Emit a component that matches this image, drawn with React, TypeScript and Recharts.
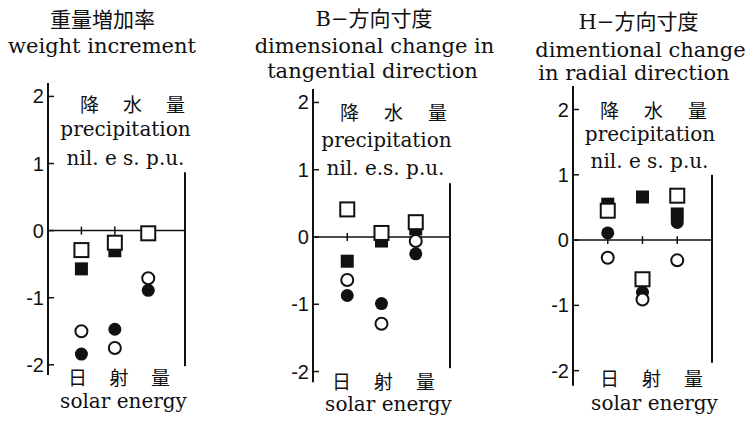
import React from "react"
import { ScatterChart, Scatter, XAxis, YAxis, ReferenceLine } from "recharts"

// category order along each panel: nil., e.s., p.u.
const categories = ["nil.", "e.s.", "p.u."]
const yTicks = [2, 1, 0, -1, -2]

// 重量増加率 weight increment
const weightOpenSquare = [-0.29, -0.18, -0.04]
const weightFilledSquare = [-0.57, -0.3, null]
const weightOpenCircle = [-1.5, -1.75, -0.71]
const weightFilledCircle = [-1.84, -1.47, -0.89]

// B-方向寸度 tangential direction
const tangOpenSquare = [0.41, 0.06, 0.22]
const tangFilledSquare = [-0.36, -0.06, 0.12]
const tangOpenCircle = [-0.64, -1.29, -0.06]
const tangFilledCircle = [-0.87, -0.99, -0.25]

// H-方向寸度 radial direction
const radOpenSquare = [0.45, -0.6, 0.68]
const radFilledSquare = [0.55, 0.66, 0.4]
const radOpenCircle = [-0.27, -0.91, -0.31]
const radFilledCircle = [0.11, -0.8, 0.27]

const INK = "#111"
const SERIF = "'DejaVu Serif', 'Noto Sans CJK JP', serif"
const CJK = "'Noto Sans CJK JP', sans-serif"
const TICK_FONT = "'Liberation Sans Narrow', 'Liberation Sans', sans-serif"

const toPoints = (vals: (number | null)[]) =>
  vals
    .map((v, i) => ({ x: i + 1, y: v, cat: categories[i] }))
    .filter((p) => p.y !== null)

const OpenSquare = (p: any) => (
  <rect x={p.cx - 7} y={p.cy - 7} width={14} height={14} fill="#fff" stroke={INK} strokeWidth={2} />
)
const FilledSquare = (p: any) => (
  <rect x={p.cx - 6.5} y={p.cy - 6.5} width={13} height={13} fill={INK} />
)
const OpenCircle = (p: any) => (
  <circle cx={p.cx} cy={p.cy} r={6} fill="#fff" stroke={INK} strokeWidth={2} />
)
const FilledCircle = (p: any) => <circle cx={p.cx} cy={p.cy} r={6.5} fill={INK} />

const Y_W = 40
const M = { top: 10, right: 10, bottom: 10, left: 0 }

interface PanelProps {
  axisX: number
  plotTop: number
  plotW: number
  plotH: number
  xMax: number
  yDomain: [number, number]
  rightLine: [number, number]
  openSq: (number | null)[]
  filledSq: (number | null)[]
  openCi: (number | null)[]
  filledCi: (number | null)[]
}

function Panel(p: PanelProps) {
  const tick = (t: any) => (
    <g>
      <text
        x={Y_W - 4}
        y={t.y}
        dy={7}
        textAnchor="end"
        fontFamily={TICK_FONT}
        fontSize={20}
        fill={INK}
      >
        {t.payload.value}
      </text>
      <line x1={Y_W} x2={Y_W + 6} y1={t.y} y2={t.y} stroke={INK} strokeWidth={1.5} />
    </g>
  )
  return (
    <div style={{ position: "absolute", left: p.axisX - Y_W, top: p.plotTop - M.top }}>
      <ScatterChart
        width={Y_W + p.plotW + M.right}
        height={p.plotH + M.top + M.bottom}
        margin={M}
      >
        <XAxis type="number" dataKey="x" domain={[0, p.xMax]} hide />
        <YAxis
          type="number"
          dataKey="y"
          domain={p.yDomain}
          ticks={yTicks}
          width={Y_W}
          axisLine={{ stroke: INK, strokeWidth: 2 }}
          tickLine={false}
          tickSize={0}
          tick={tick}
          interval={0}
        />
        <ReferenceLine y={0} stroke={INK} strokeWidth={1.5} />
        {[1, 2, 3].map((x) => (
          <ReferenceLine
            key={x}
            segment={[
              { x, y: -0.06 },
              { x, y: 0.06 },
            ]}
            stroke={INK}
            strokeWidth={1.5}
          />
        ))}
        <ReferenceLine
          segment={[
            { x: p.xMax, y: p.rightLine[0] },
            { x: p.xMax, y: p.rightLine[1] },
          ]}
          stroke={INK}
          strokeWidth={2}
        />
        <Scatter data={toPoints(p.filledSq)} shape={FilledSquare} isAnimationActive={false} />
        <Scatter data={toPoints(p.openSq)} shape={OpenSquare} isAnimationActive={false} />
        <Scatter data={toPoints(p.filledCi)} shape={FilledCircle} isAnimationActive={false} />
        <Scatter data={toPoints(p.openCi)} shape={OpenCircle} isAnimationActive={false} />
      </ScatterChart>
    </div>
  )
}

function Txt({ cx, top, size = 20, font = SERIF, children }: any) {
  return (
    <div
      style={{
        position: "absolute",
        left: cx,
        top,
        transform: "translateX(-50%)",
        whiteSpace: "nowrap",
        fontFamily: font,
        fontSize: size,
        lineHeight: `${size}px`,
        color: INK,
      }}
    >
      {children}
    </div>
  )
}

function Spread({ left, width, top, text }: any) {
  return (
    <div
      style={{
        position: "absolute",
        left,
        top,
        width,
        display: "flex",
        justifyContent: "space-between",
        fontFamily: CJK,
        fontSize: 19,
        lineHeight: "19px",
        color: INK,
      }}
    >
      {text.map((c: string) => (
        <span key={c}>{c}</span>
      ))}
    </div>
  )
}

const precipLabel = ["降", "水", "量"]
const solarLabel = ["日", "射", "量"]

export default function App() {
  return (
    <div style={{ position: "absolute", left: 0, top: 0, width: 751, height: 421, background: "#fff" }}>
      <Panel
        axisX={48}
        plotTop={83.3}
        plotW={137}
        plotH={291.9}
        xMax={4.1}
        yDomain={[-2.15, 2.2]}
        rightLine={[0.87, -2.02]}
        openSq={weightOpenSquare}
        filledSq={weightFilledSquare}
        openCi={weightOpenCircle}
        filledCi={weightFilledCircle}
      />
      <Panel
        axisX={313}
        plotTop={89}
        plotW={137}
        plotH={293.3}
        xMax={4}
        yDomain={[-2.16, 2.2]}
        rightLine={[0.8, -1.95]}
        openSq={tangOpenSquare}
        filledSq={tangFilledSquare}
        openCi={tangOpenCircle}
        filledCi={tangFilledCircle}
      />
      <Panel
        axisX={573}
        plotTop={85.9}
        plotW={139}
        plotH={299.7}
        xMax={4}
        yDomain={[-2.23, 2.36]}
        rightLine={[1.0, -1.88]}
        openSq={radOpenSquare}
        filledSq={radFilledSquare}
        openCi={radOpenCircle}
        filledCi={radFilledCircle}
      />

      <Txt cx={102.5} top={8} size={21} font={CJK}>重量増加率</Txt>
      <Txt cx={102} top={36} size={21}>weight increment</Txt>
      <Txt cx={374} top={9} size={21}>B−方向寸度</Txt>
      <Txt cx={374.5} top={36} size={21}>dimensional change in</Txt>
      <Txt cx={372.5} top={61} size={21}>tangential direction</Txt>
      <Txt cx={638.5} top={12} size={21}>H−方向寸度</Txt>
      <Txt cx={640.5} top={40} size={21}>dimentional change</Txt>
      <Txt cx={634} top={63} size={21}>in radial direction</Txt>

      <Spread left={80} width={105} top={94} text={precipLabel} />
      <Txt cx={125.5} top={119}>precipitation</Txt>
      <Txt cx={125.5} top={148}>nil. e s. p.u.</Txt>
      <Spread left={68} width={102} top={367} text={solarLabel} />
      <Txt cx={123.5} top={391}>solar energy</Txt>

      <Spread left={340} width={107} top={102} text={precipLabel} />
      <Txt cx={386.5} top={130}>precipitation</Txt>
      <Txt cx={385.5} top={158}>nil. e.s. p.u.</Txt>
      <Spread left={332} width={103} top={371} text={solarLabel} />
      <Txt cx={388.5} top={394}>solar energy</Txt>

      <Spread left={600} width={107} top={100} text={precipLabel} />
      <Txt cx={650} top={124}>precipitation</Txt>
      <Txt cx={649.5} top={151}>nil. e s. p.u.</Txt>
      <Spread left={600} width={103} top={368} text={solarLabel} />
      <Txt cx={654.5} top={393}>solar energy</Txt>
    </div>
  )
}
